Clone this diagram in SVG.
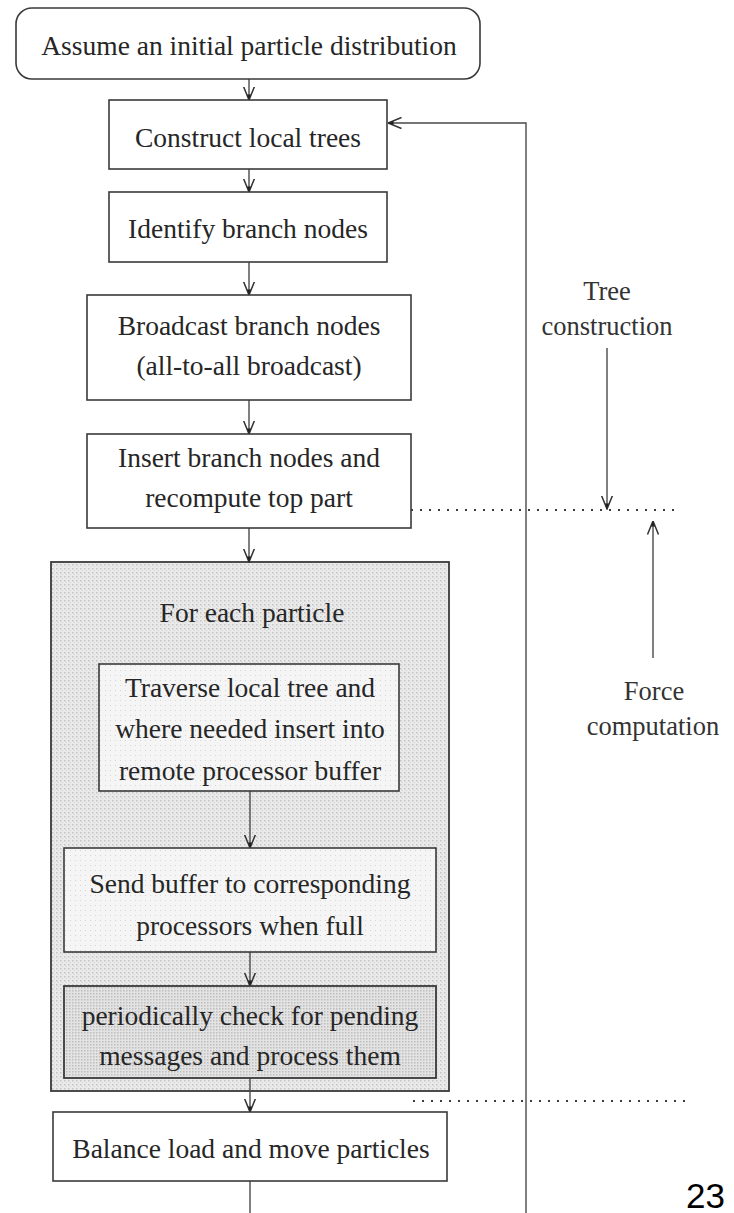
<svg xmlns="http://www.w3.org/2000/svg" width="734" height="1213" viewBox="0 0 734 1213">
  <defs>
    <style>
      .box { fill: #ffffff; stroke: #3a3a3a; stroke-width: 1.6; }
      .lbl { font-family: "Liberation Serif", "Times New Roman", serif; font-size: 27.5px; fill: #262626; text-anchor: middle; }
      .side { font-family: "Liberation Serif", "Times New Roman", serif; font-size: 26.5px; fill: #333333; text-anchor: middle; }
      .conn { fill: none; stroke: #4a4a4a; stroke-width: 1.4; }
      .dots { fill: none; stroke: #3c3c3c; stroke-width: 2; stroke-dasharray: 2 7; }
      .pageno { font-family: "Liberation Sans", Arial, sans-serif; font-size: 35px; fill: #000000; }
    </style>
    <!-- halftone screens for the shaded loop body -->
    <pattern id="screen" width="4" height="4" patternUnits="userSpaceOnUse">
      <rect width="4" height="4" fill="#eaeaea"/>
      <rect x="0" y="0" width="1.5" height="1.5" fill="#c4c4c4"/>
      <rect x="2" y="2" width="1" height="1" fill="#d4d4d4"/>
    </pattern>
    <pattern id="screenLight" width="5" height="5" patternUnits="userSpaceOnUse">
      <rect width="5" height="5" fill="#f5f5f5"/>
      <rect x="0" y="0" width="1" height="1" fill="#d6d6d6"/>
    </pattern>
    <pattern id="screenDark" width="3" height="3" patternUnits="userSpaceOnUse">
      <rect width="3" height="3" fill="#e3e3e3"/>
      <rect x="0" y="0" width="1.5" height="1.5" fill="#bdbdbd"/>
    </pattern>
    <marker id="arrow" viewBox="0 0 14 14" refX="13.5" refY="7" markerWidth="14" markerHeight="14" markerUnits="userSpaceOnUse" orient="auto">
      <path d="M0,1.5 L13.5,7 L0,12.5" fill="none" stroke="#333333" stroke-width="1.5"/>
      <path d="M8,5 L13.5,7 L8,9 Z" fill="#222222"/>
    </marker>
  </defs>

  <rect width="734" height="1213" fill="#ffffff"/>

  <!-- phase separators -->
  <g id="separators">
    <line class="dots" x1="402" y1="510" x2="676" y2="510"/>
    <line class="dots" x1="413" y1="1101" x2="686" y2="1101"/>
  </g>

  <!-- loop body (shaded) -->
  <g id="loop">
    <rect x="51" y="562" width="398" height="529" fill="url(#screen)" stroke="#3a3a3a" stroke-width="1.8"/>
    <text class="lbl" x="252" y="622">For each particle</text>
  </g>

  <g id="connectors">
    <line class="conn" x1="249" y1="79" x2="249" y2="100" marker-end="url(#arrow)"/>
    <line class="conn" x1="249" y1="169" x2="249" y2="192" marker-end="url(#arrow)"/>
    <line class="conn" x1="249" y1="262" x2="249" y2="295" marker-end="url(#arrow)"/>
    <line class="conn" x1="249" y1="400" x2="249" y2="434" marker-end="url(#arrow)"/>
    <line class="conn" x1="249" y1="528" x2="249" y2="562" marker-end="url(#arrow)"/>
    <line class="conn" x1="250" y1="791" x2="250" y2="848" marker-end="url(#arrow)"/>
    <line class="conn" x1="250" y1="952" x2="250" y2="986" marker-end="url(#arrow)"/>
    <line class="conn" x1="250" y1="1078" x2="250" y2="1112" marker-end="url(#arrow)"/>
    <line class="conn" x1="250" y1="1181" x2="250" y2="1213"/>
    <!-- iteration feedback -->
    <polyline class="conn" points="526,1213 526,123 388,123" marker-end="url(#arrow)"/>
    <!-- phase indicators -->
    <line class="conn" x1="607" y1="348" x2="607" y2="509" marker-end="url(#arrow)"/>
    <line class="conn" x1="653" y1="658" x2="653" y2="521" marker-end="url(#arrow)"/>
  </g>

  <g id="n-start">
    <rect class="box" x="16" y="8" width="464" height="71" rx="16" ry="16"/>
    <text class="lbl" x="249" y="55">Assume an initial particle distribution</text>
  </g>

  <g id="n-construct">
    <rect class="box" x="109" y="100" width="278" height="69"/>
    <text class="lbl" x="248" y="147">Construct local trees</text>
  </g>

  <g id="n-identify">
    <rect class="box" x="109" y="192" width="278" height="70"/>
    <text class="lbl" x="248" y="238">Identify branch nodes</text>
  </g>

  <g id="n-broadcast">
    <rect class="box" x="87" y="295" width="324" height="105"/>
    <text class="lbl" x="249" y="335">Broadcast branch nodes</text>
    <text class="lbl" x="249" y="375">(all-to-all broadcast)</text>
  </g>

  <g id="n-insert">
    <rect class="box" x="87" y="434" width="324" height="94"/>
    <text class="lbl" x="249" y="467">Insert branch nodes and</text>
    <text class="lbl" x="249" y="507">recompute top part</text>
  </g>

  <g id="n-traverse">
    <rect x="99" y="664" width="300" height="127" fill="url(#screenLight)" stroke="#3a3a3a" stroke-width="1.6"/>
    <text class="lbl" x="250" y="697">Traverse local tree and</text>
    <text class="lbl" x="250" y="738">where needed insert into</text>
    <text class="lbl" x="250" y="780">remote processor buffer</text>
  </g>

  <g id="n-send">
    <rect x="64" y="848" width="372" height="104" fill="url(#screenLight)" stroke="#3a3a3a" stroke-width="1.6"/>
    <text class="lbl" x="250" y="893">Send buffer to corresponding</text>
    <text class="lbl" x="250" y="935">processors when full</text>
  </g>

  <g id="n-poll">
    <rect x="64" y="986" width="372" height="92" fill="url(#screenDark)" stroke="#3a3a3a" stroke-width="1.8"/>
    <text class="lbl" x="250" y="1025">periodically check for pending</text>
    <text class="lbl" x="250" y="1065">messages and process them</text>
  </g>

  <g id="n-balance">
    <rect class="box" x="53" y="1112" width="394" height="69"/>
    <text class="lbl" x="251" y="1158">Balance load and move particles</text>
  </g>

  <g id="phase-labels">
    <text class="side" x="607" y="300">Tree</text>
    <text class="side" x="607" y="335">construction</text>
    <text class="side" x="654" y="700">Force</text>
    <text class="side" x="653" y="735">computation</text>
  </g>

  <text class="pageno" x="686" y="1208">23</text>
</svg>
